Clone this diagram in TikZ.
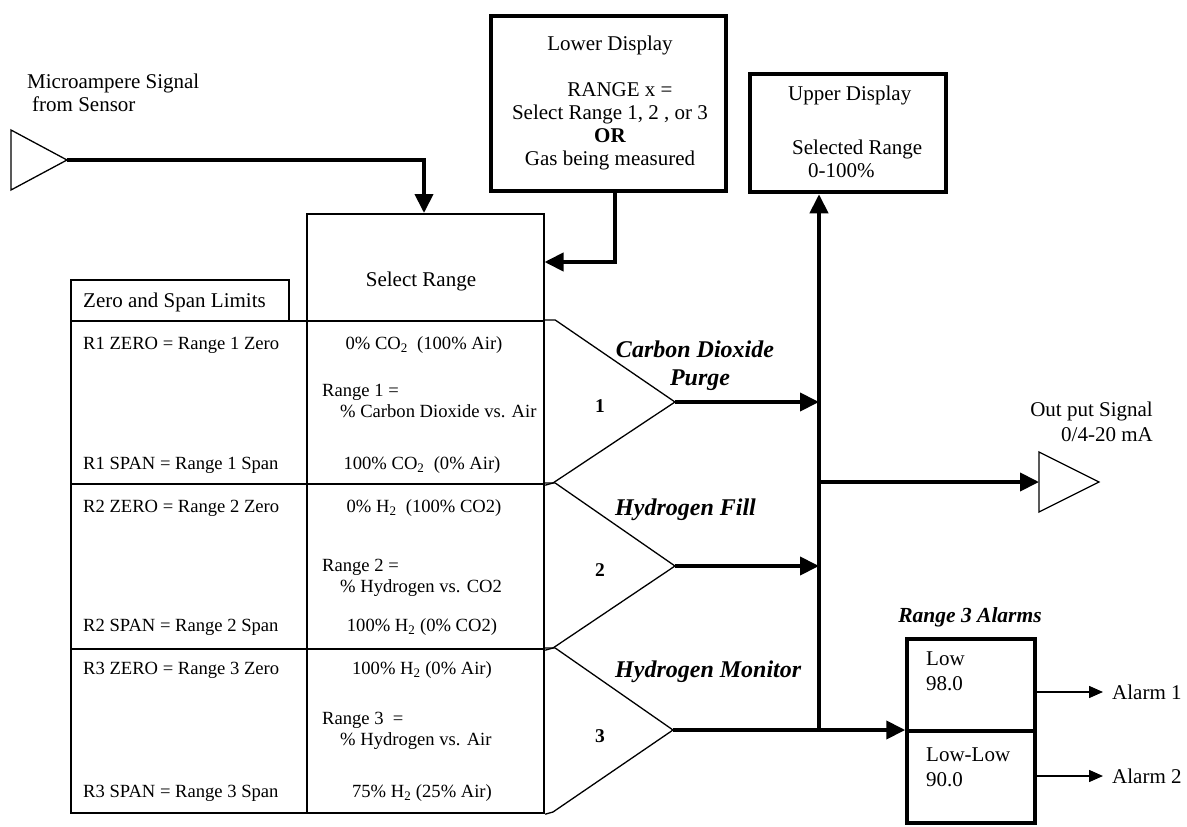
\documentclass[tikz,border=0pt]{standalone}
\usepackage{fontspec}
\setmainfont{Liberation Serif}
\usetikzlibrary{arrows.meta,positioning}

\begin{document}
\begin{tikzpicture}[x=1pt, y=-1pt,
	lbl/.style={inner sep=0pt, font=\fontsize{21}{23}\selectfont},
	cell/.style={inner sep=0pt, font=\fontsize{18.6}{20.5}\selectfont},
	gas/.style={inner sep=0pt, font=\fontsize{24}{28}\selectfont\bfseries\itshape},
	thickbox/.style={draw, line width=4.5pt, inner sep=0pt},
	thinbox/.style={draw, line width=1.5pt, inner sep=0pt},
	rowbox/.style={draw, line width=2.2pt, inner sep=0pt, minimum width=473pt, anchor=north west},
	bus/.style={line width=4pt, -{Triangle[length=19pt,width=18pt]}},
	sig/.style={line width=1.5pt, -{Triangle[length=14pt,width=12pt]}},
	mux/.style={line width=1.3pt, line join=miter}]
	\useasboundingbox (0,0) rectangle (1187,827);

	% sensor input
	\draw[mux] (11,130) -- (67,160) -- (11,190) -- cycle;
	\coordinate (srcout) at (67,160);
	\coordinate (sk) at (424,160);
	\node (srclbl) [lbl, align=left, anchor=west] at (27,93) {Microampere Signal\\\hspace*{5pt}from Sensor};

	% select range column and limits table
	\node (sel) [thinbox, minimum width=237pt, minimum height=599pt, anchor=north west] at (306,213) {};
	\node (seltxt) [lbl] at (421,281) {Select Range};
	\node (limits) [thinbox, minimum width=218pt, minimum height=41pt, anchor=north west] at (70,279) {};
	\node (limitstxt) [lbl, anchor=west] at (83,302) {Zero and Span Limits};
	\node (row1) [rowbox, minimum height=163pt] at (70,320) {};
	\node (row2) [rowbox, minimum height=165pt] at (70,483) {};
	\node (row3) [rowbox, minimum height=164pt] at (70,648) {};

	\node (r1zero) [cell, anchor=west] at (83,345) {R1 ZERO = Range 1 Zero};
	\node (r1span) [cell, anchor=west] at (83,465) {R1 SPAN = Range 1 Span};
	\node (r2zero) [cell, anchor=west] at (83,508) {R2 ZERO = Range 2 Zero};
	\node (r2span) [cell, anchor=west] at (83,627) {R2 SPAN = Range 2 Span};
	\node (r3zero) [cell, anchor=west] at (83,670) {R3 ZERO = Range 3 Zero};
	\node (r3span) [cell, anchor=west] at (83,793) {R3 SPAN = Range 3 Span};

	\node (r1low) [cell] at (424,345) {0\% CO\textsubscript{2}\ \ (100\% Air)};
	\node (r1rng) [cell, align=left, anchor=west] at (322,401) {Range 1 =\\\hspace*{18pt}\% Carbon Dioxide vs. Air};
	\node (r1high) [cell] at (422,465) {100\% CO\textsubscript{2}\ \ (0\% Air)};
	\node (r2low) [cell] at (424,508) {0\% H\textsubscript{2}\ \ (100\% CO2)};
	\node (r2rng) [cell, align=left, anchor=west] at (322,578) {Range 2 =\\\hspace*{18pt}\% Hydrogen vs. CO2};
	\node (r2high) [cell] at (422,627) {100\% H\textsubscript{2} (0\% CO2)};
	\node (r3low) [cell] at (422,670) {100\% H\textsubscript{2} (0\% Air)};
	\node (r3rng) [cell, align=left, anchor=west] at (322,731) {Range 3\ \ =\\\hspace*{18pt}\% Hydrogen vs. Air};
	\node (r3high) [cell] at (422,793) {75\% H\textsubscript{2} (25\% Air)};

	% range selectors
	\coordinate (m1) at (675,402);
	\coordinate (m2) at (675,566);
	\coordinate (m3) at (673,730);
	\draw[mux] (row1.north east) -- ++(10,0) -- (m1) -- (553,483) -- (row1.south east);
	\draw[mux] (row2.north east) -- ++(10,0) -- (m2) -- (553,648) -- (row2.south east);
	\draw[mux] (row3.north east) -- ++(10,0) -- (m3) -- (553,812) -- (row3.south east);
	\node (n1) [cell, font=\fontsize{19.5}{20.5}\selectfont\bfseries] at (600,406) {1};
	\node (n2) [cell, font=\fontsize{19.5}{20.5}\selectfont\bfseries] at (600,570) {2};
	\node (n3) [cell, font=\fontsize{19.5}{20.5}\selectfont\bfseries] at (600,736) {3};
	\node (purge) [gas, align=center] at (695,366) {Carbon Dioxide\\\hspace*{10pt}Purge};
	\node (fill) [gas, anchor=west] at (615,510) {Hydrogen Fill};
	\node (monitor) [gas, anchor=west] at (615,672) {Hydrogen Monitor};

	% displays
	\node (lower) [thickbox, minimum width=235pt, minimum height=175pt] at (608.5,103.5) {};
	\node (lowertxt) [lbl, align=center] at (610,103) {Lower Display\\[23pt]\hspace*{20pt}RANGE x =\\Select Range 1, 2 , or 3\\\textbf{OR}\\Gas being measured};
	\node (upper) [thickbox, minimum width=196pt, minimum height=118pt] at (848,133) {};
	\node (uppertxt) [lbl, align=left, anchor=north west] at (788,86) {Upper Display\\[31pt]\hspace*{4pt}Selected Range\\\hspace*{20pt}0-100\%};
	\coordinate (lk) at (615,262);

	% output and alarms
	\coordinate (outin) at (1039,482);
	\draw[mux] (outin) -- (1039,452) -- (1099,482) -- (1039,512) -- cycle;
	\node (outlbl) [lbl, align=right, anchor=east, font=\fontsize{21}{25}\selectfont] at (1153,422) {Out put Signal\\0/4-20 mA};
	\node (alarm) [thickbox, line width=3.5pt, minimum width=128pt, minimum height=184pt] at (971,731) {};
	\draw[line width=3.5pt] (alarm.west) -- (alarm.east);
	\node (alarmhd) [gas, font=\fontsize{21.5}{24}\selectfont\bfseries\itshape] at (970,617) {Range 3 Alarms};
	\node (low) [lbl, align=left, anchor=west, font=\fontsize{21}{25}\selectfont] at (926,671) {Low\\98.0};
	\node (lowlow) [lbl, align=left, anchor=west, font=\fontsize{21}{25}\selectfont] at (926,767) {Low-Low\\90.0};
	\node (alarm1) [lbl, anchor=west] at (1112,692) {Alarm 1};
	\node (alarm2) [lbl, anchor=west] at (1112,776) {Alarm 2};

	% signal bus
	\coordinate (j1) at (819,402);
	\coordinate (j2) at (819,566);
	\coordinate (j3) at (819,730);
	\coordinate (jo) at (819,482);
	\draw[bus] (srcout) -- (sk) -- (sk |- sel.north);
	\draw[bus] (lower.south -| lk) -- (lk) -- (lk -| sel.east);
	\draw[bus] (m1) -- (j1);
	\draw[bus] (m2) -- (j2);
	\draw[bus] (j3) -- (upper.south -| j3);
	\draw[bus] (m3) -- (m3 -| alarm.west);
	\draw[bus] (jo) -- (outin);
	\draw[sig, shorten >=9pt] (alarm1.west -| alarm.east) -- (alarm1.west);
	\draw[sig, shorten >=9pt] (alarm2.west -| alarm.east) -- (alarm2.west);
\end{tikzpicture}
\end{document}
